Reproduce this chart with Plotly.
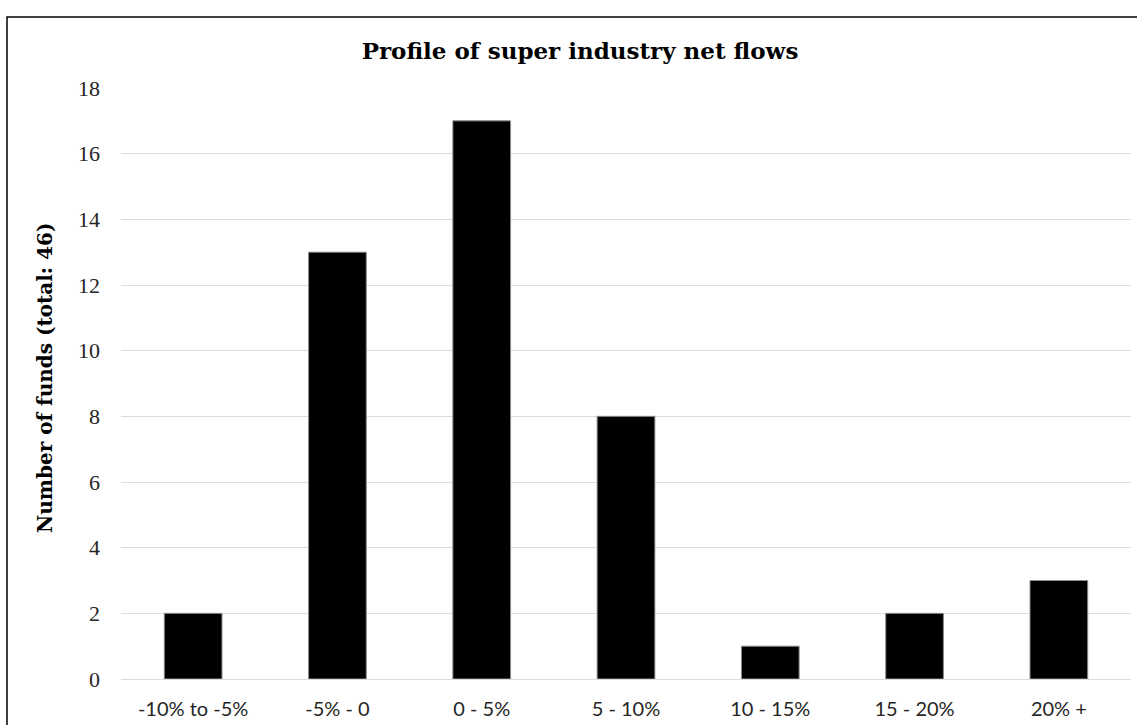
import plotly.graph_objects as go

# Net-flow bands and the number of funds falling in each
categories = ["-10% to -5%", "-5% - 0", "0 - 5%", "5 - 10%", "10 - 15%", "15 - 20%", "20% +"]
fund_counts = [2, 13, 17, 8, 1, 2, 3]
y_ticks = [0, 2, 4, 6, 8, 10, 12, 14, 16, 18]

W, H = 1137, 725
ML, MR, MT, MB = 121, 6, 88, 46

fig = go.Figure(
    go.Bar(
        x=categories,
        y=fund_counts,
        marker=dict(color="#000000", line=dict(color="#8c8c8c", width=1)),
        hoverinfo="x+y",
    )
)

pw = W - ML - MR
ph = H - MT - MB

fig.update_layout(
    width=W,
    height=H,
    margin=dict(l=ML, r=MR, t=MT, b=MB),
    paper_bgcolor="white",
    plot_bgcolor="white",
    bargap=0.6,
    showlegend=False,
    title=dict(
        text="<b>Profile of super industry net flows</b>",
        x=(580 - ML) / pw,
        xref="paper",
        xanchor="center",
        y=1 - 51 / H,
        yanchor="middle",
        font=dict(family="DejaVu Serif", size=23, color="#000000"),
    ),
    xaxis=dict(
        showgrid=False,
        showline=False,
        ticks="",
        tickfont=dict(family="Lato", size=20, color="#262626"),
        ticklabelstandoff=16,
    ),
    yaxis=dict(
        range=[0, 18],
        tickvals=y_ticks,
        showgrid=True,
        gridcolor="#dcdcdc",
        gridwidth=1,
        zeroline=True,
        zerolinecolor="#dcdcdc",
        zerolinewidth=1,
        showline=False,
        ticks="",
        tickfont=dict(family="Liberation Serif", size=22, color="#262626"),
        ticklabelstandoff=20,
    ),
)

# Vertical axis title
fig.add_annotation(
    text="<b>Number of funds (total: 46)</b>",
    xref="paper",
    yref="paper",
    x=(45 - ML) / pw,
    y=1 - (378 - MT) / ph,
    xanchor="center",
    yanchor="middle",
    textangle=-90,
    showarrow=False,
    font=dict(family="DejaVu Serif", size=20, color="#000000"),
)

# Frame around the chart area (extends past the right and bottom edges)
fig.add_shape(
    type="rect",
    xref="paper",
    yref="paper",
    x0=(7 - ML) / pw,
    x1=(W + 10 - ML) / pw,
    y0=-(MB + 10) / ph,
    y1=1 + (MT - 17) / ph,
    line=dict(color="#000000", width=1.5),
    fillcolor="rgba(0,0,0,0)",
    layer="above",
)

fig.write_html("out.html")
